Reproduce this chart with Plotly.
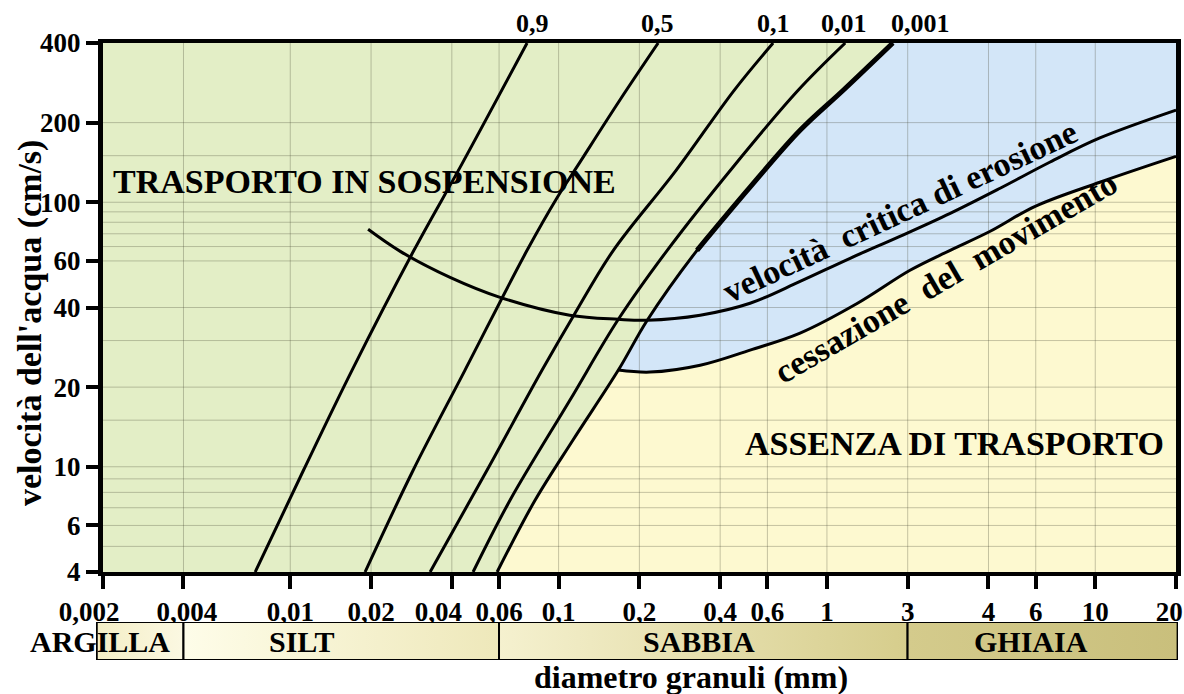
import plotly.graph_objects as go

NB = '\u00a0'

# ---------------- axis ticks / grid ----------------
x_tick_vals = [0.002, 0.004, 0.01, 0.02, 0.04, 0.06, 0.1, 0.2, 0.4, 0.6, 1, 2, 4, 6, 10, 20]
x_tick_text = ['0,002' + NB * 4, NB + '0,004', '0,01', '0,02', '0,04' + NB * 4, '0,06', '0,1', '0,2',
               '0,4', '0,6', '1', '3', '4', '6', '10', '20' + NB * 2]
y_tick_vals = [4, 6, 10, 20, 40, 60, 100, 200, 400]
y_tick_text = ['4', '6', '10', '20', '40', '60', '100', '200', '400']
x_grid = [0.004, 0.01, 0.02, 0.04, 0.06, 0.1, 0.2, 0.4, 0.6, 1, 2, 4, 6, 10]
y_grid = [5, 6, 7, 8, 9, 10, 15, 20, 30, 40, 60, 68, 76, 84, 92, 100, 150, 200]
X_MIN, X_MAX = 0.002, 20
Y_MIN, Y_MAX = 4, 400

# ---------------- curves (diameter mm, velocity cm/s) ----------------
d_09 = [0.0074, 0.0112, 0.0170, 0.0289, 0.0437, 0.0763]
v_09 = [4, 9.7, 23.2, 65.8, 140, 400]

d_05 = [0.0190, 0.0287, 0.0448, 0.0763, 0.0987, 0.117, 0.169, 0.235]
v_05 = [4, 9.7, 23.2, 65.8, 104, 136, 243, 400]

d_01 = [0.0332, 0.0541, 0.0868, 0.114, 0.160, 0.274, 0.451, 0.630]
v_01 = [4, 9.7, 23.2, 37.4, 65.8, 132, 265, 400]

d_001 = [0.048, 0.0659, 0.110, 0.167, 0.254, 0.447, 0.781, 1.17]
v_001 = [4, 7.47, 17.8, 36.1, 65.8, 136, 265, 400]

# 0,001 line = boundary of the suspension field
d_0001 = [0.059, 0.0817, 0.113, 0.167, 0.214, 0.328, 0.517, 0.794, 1.15, 1.76]
v_0001 = [4, 7.47, 12.6, 23.2, 35.8, 65.8, 114, 187, 265, 400]

# velocità critica di erosione
d_eros = [0.0195, 0.0257, 0.0394, 0.0605, 0.110, 0.167, 0.214, 0.337, 0.517, 0.794,
          1.22, 1.87, 2.88, 4.42, 6.79, 10.4, 20]
v_eros = [79.0, 65.2, 52.0, 43.7, 37.4, 36.1, 35.8, 37.4, 41.5, 50.2,
          61.4, 74.3, 90.8, 113, 142, 175, 223]

# cessazione del movimento
d_cess = [0.167, 0.219, 0.337, 0.517, 0.794, 1.30, 2.04, 2.88, 4.06, 5.97, 10.4, 20]
v_cess = [23.2, 22.8, 24.2, 27.6, 32.0, 41.5, 55.3, 65.8, 77.7, 96.5, 119, 149]

# grain size classes
classes = ['ARGILLA', 'SILT', 'SABBIA', 'GHIAIA']
class_bounds = [0.0019, 0.004, 0.06, 2, 20.3]
class_colors = [('#f4eec6', '#fbf8e2'), ('#fefde9', '#eee8ba'),
                ('#f5f1cf', '#d6cd8c'), ('#d4cb8c', '#c9bf7c')]

line_labels = ['0,9', '0,5', '0,1', '0,01', '0,001']

# ---------------- colours ----------------
GREEN = '#e3eec6'
BLUE = '#d3e6f8'
YELLOW = '#fdf9d0'
GRID = 'rgba(70,70,50,0.30)'
FONT = 'Liberation Serif, Times New Roman, serif'

fig = go.Figure()

# split point: cessation curve starts on the boundary line
k = d_0001.index(d_cess[0])

# blue field (erosion / transport)
blue_x = d_0001[k:] + [X_MAX] + d_cess[::-1]
blue_y = v_0001[k:] + [Y_MAX] + v_cess[::-1]
fig.add_trace(go.Scatter(x=blue_x, y=blue_y, mode='lines', fill='toself', fillcolor=BLUE,
                         line=dict(width=0, color=BLUE), hoverinfo='skip', showlegend=False))

# yellow field (no transport)
yel_x = d_0001[:k + 1] + d_cess[1:] + [X_MAX, d_0001[0]]
yel_y = v_0001[:k + 1] + v_cess[1:] + [Y_MIN, Y_MIN]
fig.add_trace(go.Scatter(x=yel_x, y=yel_y, mode='lines', fill='toself', fillcolor=YELLOW,
                         line=dict(width=0, color=YELLOW), hoverinfo='skip', showlegend=False))

# grid lines (drawn above the fields)
gx, gy = [], []
for xv in x_grid:
    gx += [xv, xv, None]
    gy += [Y_MIN, Y_MAX, None]
for yv in y_grid:
    gx += [X_MIN, X_MAX, None]
    gy += [yv, yv, None]
fig.add_trace(go.Scatter(x=gx, y=gy, mode='lines', line=dict(color=GRID, width=1),
                         hoverinfo='skip', showlegend=False))

# concentration lines
for dd, vv in [(d_09, v_09), (d_05, v_05), (d_01, v_01), (d_001, v_001), (d_0001, v_0001)]:
    fig.add_trace(go.Scatter(x=dd, y=vv, mode='lines', line=dict(color='black', width=3, shape='spline'),
                             hoverinfo='skip', showlegend=False))
# thicker upper part of the boundary
thick = [(d, v) for d, v in zip(d_0001, v_0001) if v >= 60]
fig.add_trace(go.Scatter(x=[t[0] for t in thick], y=[t[1] for t in thick], mode='lines',
                         line=dict(color='black', width=5, shape='spline'),
                         hoverinfo='skip', showlegend=False))

# erosion and cessation curves
fig.add_trace(go.Scatter(x=d_eros, y=v_eros, mode='lines', line=dict(color='black', width=3, shape='spline'),
                         hoverinfo='skip', showlegend=False))
fig.add_trace(go.Scatter(x=d_cess, y=v_cess, mode='lines', line=dict(color='black', width=3, shape='spline'),
                         hoverinfo='skip', showlegend=False))

# grain size bar (second subplot)
for name, (c0, c1), a, b in zip(classes, class_colors, class_bounds[:-1], class_bounds[1:]):
    fig.add_trace(go.Scatter(x=[a, b, b, a, a], y=[0, 0, 1, 1, 0], mode='lines', fill='toself',
                             fillgradient=dict(type='horizontal', colorscale=[[0, c0], [1, c1]]),
                             line=dict(color='black', width=2), xaxis='x2', yaxis='y2',
                             hoverinfo='skip', showlegend=False))

tickfont = dict(family=FONT, size=27, color='black', weight='bold')

fig.update_layout(
    width=1184, height=694,
    margin=dict(l=96, r=6, t=43, b=34, autoexpand=False),
    paper_bgcolor='white', plot_bgcolor=GREEN,
    showlegend=False,
    xaxis=dict(type='log', range=[-2.69897, 1.30103], domain=[0.0062, 0.9982], anchor='y',
               tickvals=x_tick_vals, ticktext=x_tick_text, ticks='outside', ticklen=13,
               tickwidth=3.5, tickcolor='black', showline=True, linewidth=3.5, linecolor='black',
               mirror=True, showgrid=False, zeroline=False, tickfont=tickfont, tickangle=0,
               ticklabeloverflow='allow', automargin=False),
    yaxis=dict(type='log', range=[0.60206, 2.60206], domain=[0.1426, 1.0], anchor='x',
               tickvals=y_tick_vals, ticktext=y_tick_text, ticks='outside', ticklen=12,
               tickwidth=3.5, tickcolor='black', showline=True, linewidth=4.5, linecolor='black',
               mirror=True, showgrid=False, zeroline=False, tickfont=tickfont, tickangle=0,
               ticklabeloverflow='allow', automargin=False),
    xaxis2=dict(type='log', range=[-2.724, 1.309], domain=[0, 1], anchor='y2', visible=False),
    yaxis2=dict(range=[0, 1], domain=[0, 0.0616], anchor='x2', visible=False),
)

ann = []
def txt(text, x, y, size, angle=0):
    ann.append(dict(text=text, x=x, y=y, xref='paper', yref='paper', showarrow=False,
                    xanchor='center', yanchor='middle', textangle=angle,
                    font=dict(family=FONT, size=size, color='black', weight='bold')))

txt('TRASPORTO IN SOSPENSIONE', 0.2486, 0.7755, 34)
txt('ASSENZA DI TRASPORTO', 0.7939, 0.3517, 34)
txt('velocità  critica di erosione', 0.7431, 0.7261, 34, -25)
txt('cessazione  del  movimento', 0.7847, 0.6207, 34, -30)
txt("velocità dell'acqua (cm/s)", -0.0610, 0.5462, 34, -90)
txt('diametro granuli (mm)', 0.5499, -0.0276, 32)
for name, xp in zip(classes, [0.0037, 0.1904, 0.5573, 0.8641]):
    txt(name, xp, 0.0292, 30)
for lab, xp in zip(line_labels, [0.4030, 0.5185, 0.6266, 0.6913, 0.7616]):
    txt(lab, xp, 1.0308, 26)
fig.update_layout(annotations=ann)

fig.write_html('out.html', config={'displayModeBar': False},
               post_script="document.body.style.margin='0';")
